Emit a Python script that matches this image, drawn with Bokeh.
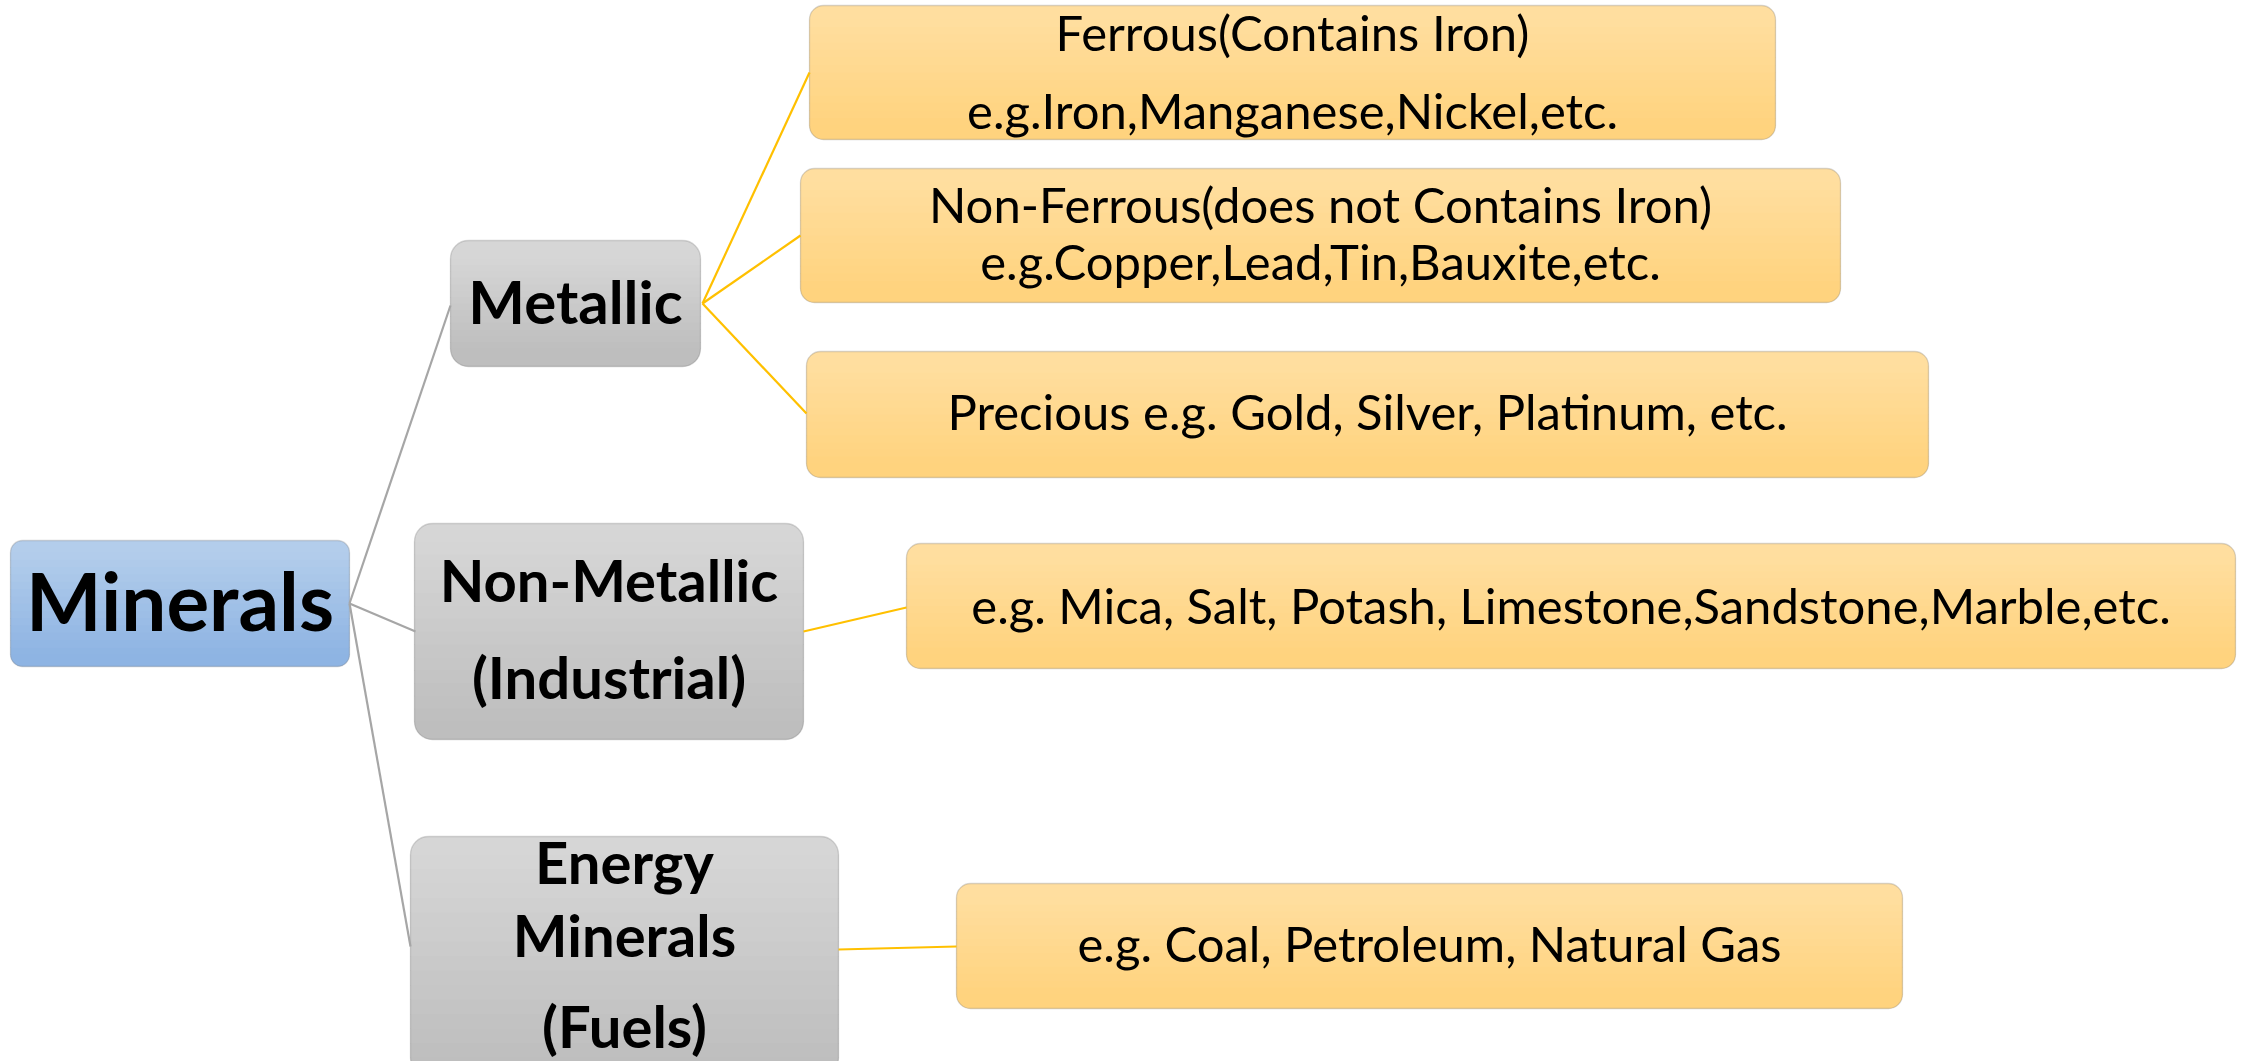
from bokeh.plotting import figure
from bokeh.models import Range1d, BoxAnnotation
from bokeh.core.properties import value
from bokeh.embed import file_html
from bokeh.resources import INLINE

# ---- content ----
root_label = ["Minerals"]
category_labels = [["Metallic"], ["Non-Metallic", "(Industrial)"], ["Energy", "Minerals", "(Fuels)"]]
example_labels = [
    ["Ferrous(Contains Iron)", "e.g.Iron,Manganese,Nickel,etc."],
    ["Non-Ferrous(does not Contains Iron)", "e.g.Copper,Lead,Tin,Bauxite,etc."],
    ["Precious e.g. Gold, Silver, Platinum, etc."],
    ["e.g. Mica, Salt, Potash, Limestone,Sandstone,Marble,etc."],
    ["e.g. Coal, Petroleum, Natural Gas"],
]
example_parent = [0, 0, 0, 1, 2]

# ---- layout (screen pixels of the page) ----
root_box = (10, 349, 540, 666)           # left, right, top, bottom
root_base = [628]
cat_boxes = [(450, 700, 240, 366), (414, 803, 523, 739), (410, 838, 836, 1075)]
cat_bases = [[322], [600, 697], [882, 955, 1046]]
cat_sizes = [60, 58, 58]
cat_in = [(450, 305), (415, 631), (410, 946)]
cat_out = [(702, 303), (803, 631), (838, 949)]
ex_boxes = [(809, 1775, 5, 139), (800, 1840, 168, 302), (806, 1928, 351, 477),
            (906, 2235, 543, 668), (956, 1902, 883, 1008)]
ex_bases = [[49, 127], [221, 278], [428], [622], [960]]
ex_in = [(809, 72), (800, 235), (806, 413), (906, 607), (956, 946)]
root_out = (349, 603)

W, H = 2241, 1061
p = figure(width=W, height=H, x_range=Range1d(0, W), y_range=Range1d(H, 0),
           x_axis_type=None, y_axis_type=None, toolbar_location=None,
           output_backend="svg", min_border=0)
p.grid.visible = False
p.outline_line_color = None
p.background_fill_color = "white"
p.border_fill_color = "white"

# connectors
p.segment(x0=[root_out[0]] * 3, y0=[root_out[1]] * 3,
          x1=[c[0] for c in cat_in], y1=[c[1] for c in cat_in],
          line_color="#A6A6A6", line_width=2.2)
p.segment(x0=[cat_out[i][0] for i in example_parent], y0=[cat_out[i][1] for i in example_parent],
          x1=[e[0] for e in ex_in], y1=[e[1] for e in ex_in],
          line_color="#FFC000", line_width=2.2)


def hex2rgb(h):
    return tuple(int(h[i:i + 2], 16) for i in (1, 3, 5))


def mix(c0, c1, t):
    a, b = hex2rgb(c0), hex2rgb(c1)
    return "#%02x%02x%02x" % tuple(round(a[i] + (b[i] - a[i]) * t) for i in range(3))


def ba(**kw):
    p.add_layout(BoxAnnotation(level="underlay", fill_alpha=1.0, **kw))


def box(b, c_top, c_bot, r, n=14):
    l, rt, t, bt = b
    ba(left=l, right=rt, top=t, bottom=bt, fill_color=c_top, line_color=None, border_radius=r)
    y0, y1 = t + r, bt - r
    s = (y1 - y0) / n
    for k in range(n):
        ba(left=l, right=rt, top=y0 + k * s, bottom=y0 + (k + 1) * s + 0.6,
           fill_color=mix(c_top, c_bot, (k + 0.5) / n), line_color=None, border_radius=0)
    ba(left=l, right=rt, top=y1, bottom=bt, fill_color=c_bot, line_color=None,
       border_radius=(0, 0, r, r))
    p.add_layout(BoxAnnotation(level="underlay", left=l, right=rt, top=t, bottom=bt,
                               fill_alpha=0.0, line_color="#7F7F7F", line_width=1.3,
                               border_radius=r))


box(root_box, "#B3CDEB", "#8EB4E3", 12)
for b in cat_boxes:
    box(b, "#D6D6D6", "#BEBEBE", 18)
for b in ex_boxes:
    box(b, "#FFDE9F", "#FFD37E", 14)

FONT = value("Lato")
SHIFT = 0.36  # baseline correction, in em


def label(xc, lines, bases, size, style):
    p.text(x=[xc] * len(lines), y=[b - SHIFT * size for b in bases], text=lines, text_align="center",
           text_baseline="alphabetic", text_font=FONT, text_font_size=value(f"{size}px"),
           text_font_style=style, text_color="black")


label((root_box[0] + root_box[1]) / 2, root_label, root_base, 80, "bold")
for b, lines, bases, sz in zip(cat_boxes, category_labels, cat_bases, cat_sizes):
    label((b[0] + b[1]) / 2, lines, bases, sz, "bold")
for b, lines, bases in zip(ex_boxes, example_labels, ex_bases):
    label((b[0] + b[1]) / 2, lines, bases, 49, "normal")

open("out.html", "w").write(file_html(p, INLINE))
